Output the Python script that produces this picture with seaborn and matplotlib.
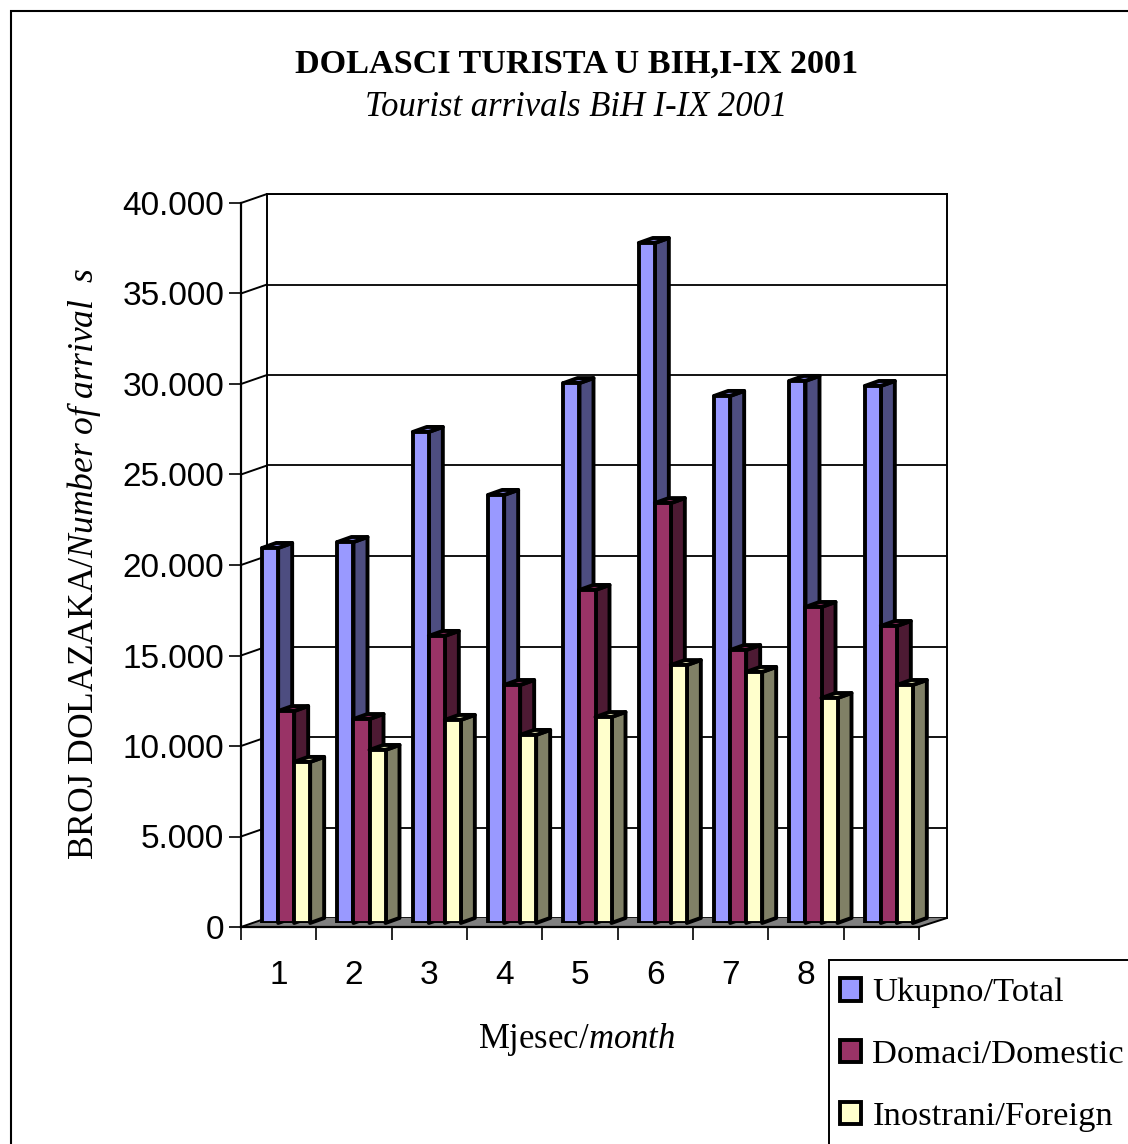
# Tourist arrivals BiH 2001 - 3D looking clustered bars built on seaborn barplot
import matplotlib
matplotlib.use("Agg")
import matplotlib.pyplot as plt
import pandas as pd
import seaborn as sns
from matplotlib.lines import Line2D
from matplotlib.patches import Polygon, Rectangle

months = ["1", "2", "3", "4", "5", "6", "7", "8", "9"]
total = [20720, 21050, 27130, 23650, 29830, 37570, 29120, 29950, 29670]
domestic = [11710, 11270, 15860, 13150, 18400, 23200, 15080, 17460, 16410]
foreign = [8900, 9560, 11220, 10390, 11380, 14250, 13870, 12430, 13150]
series_names = ["Ukupno/Total", "Domaci/Domestic", "Inostrani/Foreign"]
y_ticks = [0, 5000, 10000, 15000, 20000, 25000, 30000, 35000, 40000]
y_labels = ["0", "5.000", "10.000", "15.000", "20.000", "25.000", "30.000", "35.000", "40.000"]

front_cols = ["#9999FF", "#993366", "#FFFFCC"]
side_cols = ["#4D4D80", "#4D1A33", "#808066"]
top_cols = ["#7A7ACC", "#7A2952", "#CCCCA3"]

W, H = 1128, 1144
LW = 2.8

sns.set_theme(style="white")
plt.rcParams["font.family"] = ["Liberation Sans", "DejaVu Sans"]
plt.rcParams["mathtext.fontset"] = "custom"
plt.rcParams["mathtext.rm"] = "Liberation Serif"
plt.rcParams["mathtext.it"] = "Liberation Serif:italic"


def box(left, top, right, bottom):
    return [left / W, 1 - bottom / H, (right - left) / W, (bottom - top) / H]


df = pd.DataFrame({"month": months, series_names[0]: total, series_names[1]: domestic, series_names[2]: foreign})
long_df = df.melt(id_vars="month", var_name="series", value_name="arrivals")

fig = plt.figure(figsize=(W / 100, H / 100), dpi=100)
fig.add_artist(Rectangle((11 / W, -0.1), 1.2, 1.1 - 11 / H, transform=fig.transFigure,
                         fill=False, edgecolor="black", linewidth=1.5))

# back wall
back = fig.add_axes(box(267, 194, 947, 918), zorder=1)
back.set_xlim(-0.5, 8.5)
back.set_ylim(0, 40000)
back.set_xticks([])
back.set_yticks(y_ticks)
back.set_yticklabels([])
back.tick_params(left=False)
back.grid(axis="y", color="black", linewidth=1.3)
back.spines["bottom"].set_visible(False)
for s in ["left", "right", "top"]:
    back.spines[s].set_color("black")
    back.spines[s].set_linewidth(1.4)

# front plane holds the axis lines and labels
front = fig.add_axes(box(241, 203, 919, 927), zorder=2)
front.patch.set_alpha(0)
front.set_xlim(-0.5, 8.5)
front.set_ylim(0, 40000)
front.set_yticks(y_ticks)
front.set_yticklabels(y_labels, fontsize=24, color="black")
front.set_xticks([i - 0.5 for i in range(len(months) + 1)])
front.set_xticklabels([])
front.set_xticks(range(len(months)), months, minor=True, fontsize=24, color="black")
front.tick_params(axis="y", left=True, length=9, width=1.2, color="black", pad=3)
front.tick_params(axis="x", which="major", bottom=True, length=9.5, width=1.2, color="black")
front.tick_params(axis="x", which="minor", bottom=False, length=0, pad=24)
for s in ["top", "right"]:
    front.spines[s].set_visible(False)
for s in ["left", "bottom"]:
    front.spines[s].set_color("black")
    front.spines[s].set_linewidth(1.6)


def to_fig(ax, x, y):
    return fig.transFigure.inverted().transform(ax.transData.transform((x, y)))


# floor and side wall joints
floor = [to_fig(front, -0.5, 0), to_fig(front, 8.5, 0), to_fig(back, 8.5, 0), to_fig(back, -0.5, 0)]
back.add_patch(Polygon(floor, closed=True, transform=fig.transFigure, facecolor="#808080",
                       edgecolor="none", clip_on=False, zorder=4))
for v in y_ticks:
    a, b = to_fig(front, -0.5, v), to_fig(back, -0.5, v)
    back.add_line(Line2D([a[0], b[0]], [a[1], b[1]], transform=fig.transFigure, color="black",
                         linewidth=1.4, clip_on=False, zorder=5))
a, b = to_fig(front, 8.5, 0), to_fig(back, 8.5, 0)
back.add_line(Line2D([a[0], b[0]], [a[1], b[1]], transform=fig.transFigure, color="black",
                     linewidth=1.4, clip_on=False, zorder=5))

# bars stand in the middle of the floor
bars = fig.add_axes(box(248.5, 199, 926.5, 923), zorder=3)
bars.patch.set_alpha(0)
sns.barplot(data=long_df, x="month", y="arrivals", hue="series", hue_order=series_names,
            palette=front_cols, width=48 / 75.33, gap=0, saturation=1, edgecolor="black",
            linewidth=LW, ax=bars)
bars.set_xlim(-0.5, 8.5)
bars.set_ylim(0, 40000)
handles, labels = bars.get_legend_handles_labels()
bars.get_legend().remove()
bars.axis("off")

dx = 14 / 75.33
dy = 5 / (724 / 40000)
for i, cont in enumerate(bars.containers):
    for p in cont:
        p.set_zorder(2 * i + 3)
        p.set_joinstyle("round")
        x0, x1 = p.get_x(), p.get_x() + p.get_width()
        h = p.get_height()
        side = [(x1, 0), (x1 + dx, dy), (x1 + dx, h + dy), (x1, h)]
        top = [(x0, h), (x1, h), (x1 + dx, h + dy), (x0 + dx, h + dy)]
        bars.add_patch(Polygon(side, closed=True, facecolor=side_cols[i], edgecolor="black",
                               linewidth=LW, joinstyle="round", clip_on=False, zorder=2 * i + 2))
        bars.add_patch(Polygon(top, closed=True, facecolor=top_cols[i], edgecolor="black",
                               linewidth=LW, joinstyle="round", clip_on=False, zorder=2 * i + 2))

# titles
fig.text(577 / W, 1 - 64 / H, "DOLASCI TURISTA U BIH,I-IX 2001", family="Liberation Serif",
         fontweight="bold", fontsize=24.6, ha="center", va="center", color="black")
fig.text(576 / W, 1 - 108 / H, "Tourist arrivals BiH I-IX 2001", family="Liberation Serif",
         style="italic", fontsize=24.9, ha="center", va="center", color="black")
fig.text(84 / W, 1 - 564 / H, r"BROJ DOLAZAKA/$\mathit{Number\ of\ arrival}\ \ \mathit{s}$",
         family="Liberation Serif", fontsize=25.6, rotation=90, ha="center", va="center", color="black")
fig.text(577 / W, 1 - 1040 / H, r"Mjesec/$\mathit{month}$", family="Liberation Serif",
         fontsize=25, ha="center", va="center", color="black")

# legend box runs off the page on the right and at the bottom
fig.add_artist(Rectangle((829 / W, -0.1), 0.5, 0.1 + 1 - 960 / H, transform=fig.transFigure,
                         facecolor="white", edgecolor="black", linewidth=1.4, zorder=4))
leg = fig.legend(handles, labels, loc="upper left", bbox_to_anchor=(840 / W, 1 - 978 / H),
                 bbox_transform=fig.transFigure, borderaxespad=0, borderpad=0, handlelength=0.62,
                 handleheight=0.62, handletextpad=0.32, labelspacing=0.91, frameon=False,
                 prop={"family": "Liberation Serif", "size": 24.8})
for t in leg.get_texts():
    t.set_color("black")

fig.savefig("out.png", dpi=100)
